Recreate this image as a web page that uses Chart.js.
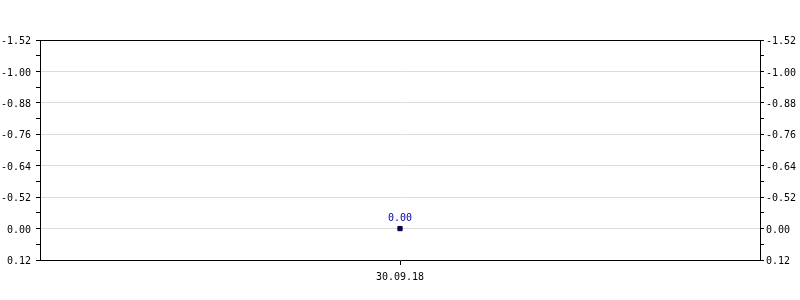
<!DOCTYPE html>
<html><head><meta charset="utf-8">
<script src="https://cdn.jsdelivr.net/npm/chart.js@4"></script>
<style>html,body{margin:0;padding:0;background:#fff}#c{display:block}</style>
</head><body>
<canvas id="c" width="800" height="300"></canvas>
<script>
const categories = ['30.09.18'];
const seriesValues = [0.00];
const yTickLabels = ['-1.52','-1.00','-0.88','-0.76','-0.64','-0.52','0.00','0.12'];

const FONT = {family: '"DejaVu Sans Mono", monospace', size: 10};
const yPositions = seriesValues.map(v => yTickLabels.indexOf(v.toFixed(2)));
const lastIdx = yTickLabels.length - 1;

function yScale(pos) {
  return {
    type: 'linear', position: pos, min: 0, max: lastIdx, reverse: true,
    afterFit: s => { s.width = 40; },
    border: {display: true, color: '#000', width: 1},
    grid: {
      drawOnChartArea: pos === 'left',
      tickLength: 4,
      tickColor: '#000',
      color: ctx => (ctx.tick && Number.isInteger(ctx.tick.value) && ctx.tick.value > 0 && ctx.tick.value < lastIdx) ? '#dcdcdc' : 'rgba(0,0,0,0)'
    },
    ticks: {
      stepSize: 0.5, autoSkip: false, display: false, font: FONT,
      callback: v => Number.isInteger(v) ? yTickLabels[v] : ''
    }
  };
}

const labelPlugin = {
  id: 'extras',
  afterDatasetsDraw(chart) {
    const ctx = chart.ctx, a = chart.chartArea;
    ctx.save();
    ctx.strokeStyle = '#000'; ctx.lineWidth = 1;
    ctx.beginPath(); ctx.moveTo(a.left, a.top + 0.5); ctx.lineTo(a.right, a.top + 0.5); ctx.stroke();
    ctx.font = '10px "DejaVu Sans Mono", monospace';
    ctx.fillStyle = '#000';
    ctx.textBaseline = 'middle';
    const ys = chart.scales.y;
    yTickLabels.forEach((lab, i) => {
      const py = ys.getPixelForValue(i) + 1.5;
      ctx.textAlign = 'right';
      ctx.fillText(lab, a.left - 9, py);
      ctx.textAlign = 'left';
      ctx.fillText(lab, a.right + 6, py);
    });
    const meta = chart.getDatasetMeta(0);
    ctx.fillStyle = '#0000a0';
    ctx.textAlign = 'center'; ctx.textBaseline = 'alphabetic';
    meta.data.forEach((p, i) => {
      ctx.fillText(seriesValues[i].toFixed(2), p.x, p.y - 7.5);
    });
    ctx.restore();
  }
};

new Chart(document.getElementById('c'), {
  type: 'line',
  data: {
    labels: categories,
    datasets: [{
      data: yPositions,
      showLine: false,
      pointStyle: 'rect',
      pointRadius: 3,
      backgroundColor: '#000080',
      borderColor: '#000030',
      borderWidth: 1
    }]
  },
  options: {
    responsive: false, animation: false,
    layout: {padding: {top: 40, left: 0, right: 0, bottom: 0}},
    plugins: {legend: {display: false}, tooltip: {enabled: false}},
    scales: {
      x: {
        type: 'category', offset: true,
        afterFit: s => { s.height = 40; },
        border: {display: true, color: '#000', width: 1},
        grid: {drawOnChartArea: false, tickLength: 5, tickColor: '#000'},
        ticks: {padding: 6, color: '#000', font: FONT, maxRotation: 0}
      },
      y: yScale('left'),
      y2: yScale('right')
    }
  },
  plugins: [labelPlugin]
});
</script>
</body></html>
